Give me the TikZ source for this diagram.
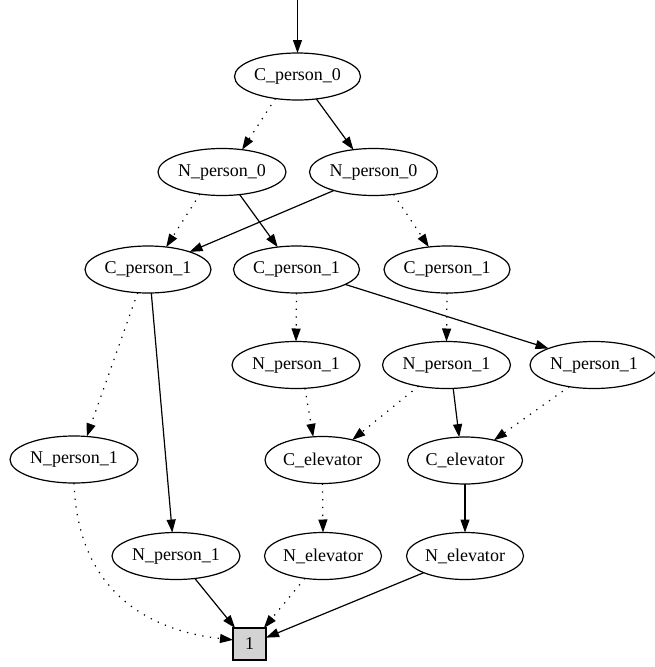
\documentclass[tikz,border=0pt]{standalone}
\usepackage{fontspec}
\setmainfont{Liberation Serif}
\usetikzlibrary{arrows.meta,shapes.geometric}
\definecolor{termgray}{RGB}{211,211,211}
\begin{document}
\begin{tikzpicture}[x=1pt,y=-1pt,
  every node/.style={font=\fontsize{18}{22}\selectfont, line width=1.2pt, outer sep=0pt, inner sep=0pt},
  bdd/.style={draw, ellipse, minimum height=47pt},
  cp/.style={bdd, minimum width=126pt},
  np/.style={bdd, minimum width=128pt},
  ce/.style={bdd, minimum width=115pt},
  ne/.style={bdd, minimum width=117pt},
  termbox/.style={draw, rectangle, fill=termgray, minimum width=33pt, minimum height=32pt},
  hi/.style={line width=1.2pt, -{Triangle[length=13pt,width=9pt]}},
  lo/.style={hi, dash pattern=on 1.3pt off 6.5pt},
]
\useasboundingbox (0,0) rectangle (655,667);

\node[cp] (c0)  at (297.5,76.5) {C\_person\_0};
\node[np] (n0l) at (222,172)    {N\_person\_0};
\node[np] (n0r) at (373.5,172)  {N\_person\_0};
\node[cp] (c1a) at (148,269.5)  {C\_person\_1};
\node[cp] (c1b) at (296.5,269.5){C\_person\_1};
\node[cp] (c1c) at (447,269.5)  {C\_person\_1};
\node[np] (n1b) at (296,365)    {N\_person\_1};
\node[np] (n1c) at (446.5,365)  {N\_person\_1};
\node[np] (n1d) at (594,365)    {N\_person\_1};
\node[np] (n1l) at (74,459.5)   {N\_person\_1};
\node[ce] (cea) at (322.5,460)  {C\_elevator};
\node[ce] (ceb) at (465,460.5)  {C\_elevator};
\node[np] (n1bot) at (176,556)  {N\_person\_1};
\node[ne] (nea) at (323,556)    {N\_elevator};
\node[ne] (neb) at (465,556)    {N\_elevator};
\node[termbox] (t) at (249.5,644) {1};
\coordinate (start) at (297.5,0);

\draw[hi] (start) -- (c0.north);
\draw[lo] (c0.-135) -- (n0l.48);
\draw[hi] (c0.-50) -- (n0r.132);
\draw[lo] (n0l.-135) -- (c1a.51);
\draw[hi] (n0l.-52) -- (c1b.130);
\draw[hi] (n0r.-155) -- (c1a.23);
\draw[lo] (n0r.-48) -- (c1c.129);
\draw[lo] (c1a.-114) -- (n1l.61);
\draw[hi] (c1a.-82) -- (n1bot.99);
\draw[lo] (c1b.south) -- (n1b.north);
\draw[hi] (c1b.-17) -- (n1d.160);
\draw[lo] (c1c.south) -- (n1c.north);
\draw[lo] (n1b.-69) -- (cea.112);
\draw[lo] (n1c.-143) -- (cea.34);
\draw[hi] (n1c.-74) -- (ceb.104);
\draw[lo] (n1d.-139) -- (ceb.35);
\draw[lo] (n1l.south) .. controls (78,600) and (160,632) .. (t.166);
\draw[lo] (cea.south) -- (nea.north);
\draw[hi] (ceb.south) -- (neb.north);
\draw[hi] (n1bot.-50) -- (t.132);
\draw[lo] (nea.-129) -- (t.48);
\draw[hi] (neb.-158) -- (t.21);
\end{tikzpicture}
\end{document}
